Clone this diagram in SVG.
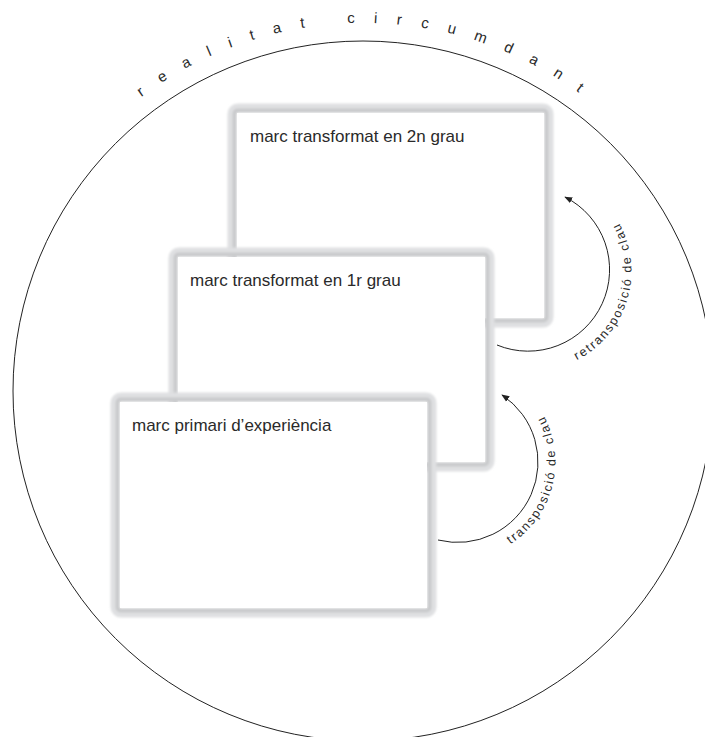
<svg xmlns="http://www.w3.org/2000/svg" width="705" height="737" viewBox="0 0 705 737">
  <defs>
    <style>
      .label { font-family: "Liberation Sans", Arial, sans-serif; font-size: 17px; fill: #2a2a2a; }
      .arclabel { font-family: "Liberation Sans", Arial, sans-serif; font-size: 12.5px; fill: #2a2a2a; letter-spacing: 1.8px; }
      .ring { font-family: "Liberation Sans", Arial, sans-serif; font-size: 15px; fill: #2a2a2a; letter-spacing: 19.2px; }
      .edge { fill: none; stroke: #222; stroke-width: 1; }
      .frame-outer { fill: none; stroke: #dfe0e2; stroke-width: 9; }
      .frame-inner { fill: none; stroke: #c9cacc; stroke-width: 4; }
      .panel { fill: #ffffff; }
    </style>
    <filter id="soft" x="-10%" y="-10%" width="120%" height="120%">
      <feGaussianBlur stdDeviation="1.1"/>
    </filter>
    <marker id="head" viewBox="0 0 10 10" refX="9" refY="5" markerWidth="8" markerHeight="8" markerUnits="userSpaceOnUse" orient="auto">
      <path d="M0,1 L10,5 L0,9 Z" fill="#222"/>
    </marker>
    <!-- baselines for the curved labels -->
    <path id="ringPath" d="M -5,391 A 368 368 0 0 1 731,391"/>
    <path id="arc1Path" d="M 510.4,544.2 A 98 98 0 0 0 526.9,392.7"/>
    <path id="arc2Path" d="M 576.9,360.1 A 100 100 0 0 0 602.2,200.3"/>
  </defs>

  <rect width="705" height="737" fill="#ffffff"/>

  <!-- surrounding reality -->
  <g id="reality">
    <circle cx="363" cy="391" r="350" class="edge"/>
    <text class="ring"><textPath href="#ringPath" startOffset="340">realitat circumdant</textPath></text>
  </g>

  <!-- frame transformed in second degree -->
  <g id="frame2">
    <g filter="url(#soft)">
      <rect x="232" y="108" width="317" height="215" rx="6" class="frame-outer"/>
      <rect x="234.5" y="110.5" width="312" height="210" rx="3" class="frame-inner"/>
    </g>
    <rect x="237" y="113" width="307" height="205" class="panel"/>
    <text x="250" y="142" class="label">marc transformat en 2n grau</text>
  </g>

  <!-- frame transformed in first degree -->
  <g id="frame1">
    <g filter="url(#soft)">
      <rect x="173" y="252" width="317" height="215" rx="6" class="frame-outer"/>
      <rect x="175.5" y="254.5" width="312" height="210" rx="3" class="frame-inner"/>
    </g>
    <rect x="178" y="257" width="307" height="205" class="panel"/>
    <text x="190" y="286" class="label">marc transformat en 1r grau</text>
  </g>

  <!-- primary frame -->
  <g id="frame0">
    <g filter="url(#soft)">
      <rect x="115" y="397" width="317" height="216" rx="6" class="frame-outer"/>
      <rect x="117.5" y="399.5" width="312" height="211" rx="3" class="frame-inner"/>
    </g>
    <rect x="120" y="402" width="307" height="206" class="panel"/>
    <text x="132" y="431" class="label">marc primari d’experiència</text>
  </g>

  <!-- key transpositions -->
  <g id="connectors">
    <path d="M 438,540 A 80.4 80.4 0 0 0 502,395" class="edge" marker-end="url(#head)"/>
    <text class="arclabel"><textPath href="#arc1Path">transposició de clau</textPath></text>
    <path d="M 497,345 A 81.5 81.5 0 0 0 565,197" class="edge" marker-end="url(#head)"/>
    <text class="arclabel"><textPath href="#arc2Path">retransposició de clau</textPath></text>
  </g>
</svg>
